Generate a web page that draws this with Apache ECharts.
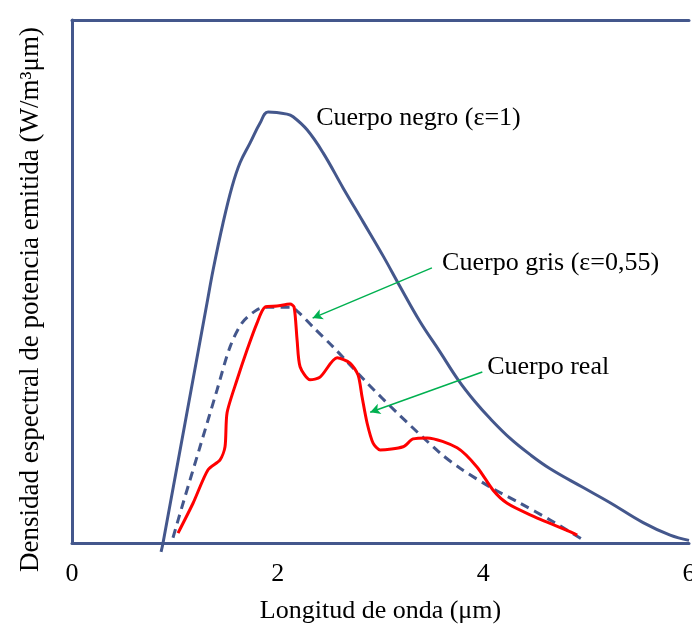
<!DOCTYPE html>
<html>
<head>
<meta charset="utf-8">
<script src="https://cdn.jsdelivr.net/npm/echarts@6/dist/echarts.min.js"></script>
<style>
  html, body { margin: 0; padding: 0; background: #fff; }
  #chart { width: 692px; height: 626px; }
</style>
</head>
<body>
<div id="chart"></div>
<script>
// ---- data (wavelength in µm, relative spectral emissive power) ----
const blackBody = [
  [0.866, -1.7], [0.885, 0], [1.313, 45.9], [1.372, 52.2], [1.469, 61.2], [1.556, 68.1],
  [1.634, 72.7], [1.732, 76.5], [1.829, 80.3], [1.907, 82.4], [2.091, 82.0], [2.150, 81.5],
  [2.286, 79.0], [2.442, 74.6], [2.636, 67.9], [2.831, 61.4], [3.025, 54.9], [3.191, 49.0],
  [3.385, 42.3], [3.580, 36.5], [3.755, 31.2], [3.920, 27.0], [4.066, 23.8], [4.261, 20.0],
  [4.455, 16.9], [4.650, 14.2], [4.971, 10.6], [5.233, 7.7], [5.554, 3.9], [5.817, 1.5],
  [6.0, 0.5]
];
const greyBody = [
  [0.982, 1.0], [1.080, 7.6], [1.245, 18.4], [1.411, 29.3], [1.537, 37.5], [1.654, 42.1],
  [1.800, 44.6], [1.897, 45.1], [2.121, 45.1], [2.198, 44.2], [2.344, 41.3], [2.539, 37.5],
  [2.870, 30.6], [3.161, 24.9], [3.580, 17.2], [3.774, 14.3], [4.066, 10.7], [4.358, 7.6],
  [4.650, 4.4], [4.971, 0.6]
];
const realBody = [
  [1.031, 1.9], [1.177, 7.6], [1.323, 14.0], [1.440, 15.9], [1.488, 18.4], [1.508, 24.9],
  [1.605, 31.2], [1.702, 36.9], [1.800, 42.1], [1.877, 45.1], [1.994, 45.3], [2.121, 45.7],
  [2.160, 45.1], [2.189, 38.8], [2.218, 33.7], [2.315, 31.2], [2.412, 31.7], [2.578, 35.4],
  [2.704, 34.4], [2.782, 32.1], [2.821, 27.9], [2.870, 22.9], [2.928, 19.1], [2.996, 17.8],
  [3.220, 18.4], [3.317, 19.9], [3.453, 20.1], [3.745, 18.2], [3.940, 14.5], [4.095, 10.1],
  [4.232, 7.6], [4.455, 5.4], [4.874, 1.9], [4.912, 1.5]
];
const xTicks = [0, 2, 4, 6];
const labelTexts = ['Cuerpo negro (ε=1)', 'Cuerpo gris (ε=0,55)', 'Cuerpo real'];
const labelAnchors = [[2.374, 81.3], [3.599, 53.5], [4.037, 33.7]];
const arrowFrom = [[3.50, 52.6], [3.99, 32.7]];
const arrowTo = [[2.34, 43.0], [2.90, 25.0]];
const xTitle = 'Longitud de onda (μm)';
const yTitle = 'Densidad espectral de potencia emitida (W/m³μm)';

const AX = '#44578C';
const FONT = '"Liberation Serif", "DejaVu Serif", serif';

const chart = echarts.init(document.getElementById('chart'), null, { renderer: 'canvas' });

const option = {
  animation: false,
  backgroundColor: '#fff',
  grid: { left: 72, right: 3, top: 20, bottom: 83, containLabel: false, outerBoundsMode: 'none' },
  xAxis: [{
    type: 'value', min: xTicks[0], max: xTicks[xTicks.length - 1], interval: 2,
    axisLine: { show: true, onZero: false, lineStyle: { color: AX, width: 3 } },
    axisTick: { show: false },
    splitLine: { show: false },
    axisLabel: { fontFamily: FONT, fontSize: 26, color: '#000', margin: 18 },
    name: xTitle, nameLocation: 'middle', nameGap: 55,
    nameTextStyle: { fontFamily: FONT, fontSize: 26, color: '#000' }
  }, {
    type: 'value', position: 'top', min: 0, max: 6,
    axisLine: { show: true, onZero: false, lineStyle: { color: AX, width: 3 } },
    axisTick: { show: false }, axisLabel: { show: false }, splitLine: { show: false }
  }],
  yAxis: {
    type: 'value', min: 0, max: 100,
    axisLine: { show: true, onZero: false, lineStyle: { color: AX, width: 3 } },
    axisTick: { show: false }, axisLabel: { show: false }, splitLine: { show: false },
    name: yTitle, nameLocation: 'middle', nameGap: 28, nameRotate: 90,
    nameTextStyle: { fontFamily: FONT, fontSize: 27, color: '#000', padding: [0, 36, 0, 0] }
  },
  series: [{
    type: 'line', name: 'negro', data: blackBody, smooth: 0.4, symbol: 'none', clip: false,
    lineStyle: { color: AX, width: 3 }
  }, {
    type: 'line', name: 'gris', data: greyBody, smooth: 0.3, symbol: 'none',
    lineStyle: { color: AX, width: 3, type: [9, 6] }
  }, {
    type: 'line', name: 'real', data: realBody, smooth: 0.25, symbol: 'none',
    lineStyle: { color: '#FF0000', width: 3 },
    markLine: {
      silent: true, symbol: ['none', 'arrow'], symbolSize: [8, 10],
      label: { show: false },
      lineStyle: { color: '#00B050', width: 1.5, type: 'solid' },
      data: arrowFrom.map((p, i) => [{ coord: p }, { coord: arrowTo[i] }])
    }
  }]
};
chart.setOption(option);

const graphics = labelTexts.map((t, i) => {
  const px = chart.convertToPixel({ gridIndex: 0 }, labelAnchors[i]);
  return {
    type: 'text', x: px[0], y: px[1],
    style: { text: t, fill: '#000', font: '26px ' + FONT, textAlign: 'left', textVerticalAlign: 'middle' }
  };
});
chart.setOption({ graphic: graphics });
</script>
</body>
</html>
